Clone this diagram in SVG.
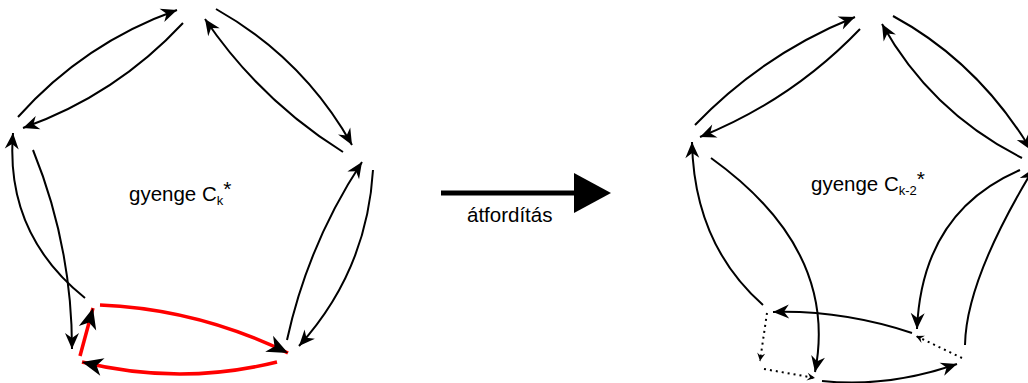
<svg xmlns="http://www.w3.org/2000/svg" width="1028" height="383" viewBox="0 0 1028 383">
<style>
.e{fill:none;stroke:#000;stroke-width:2;marker-end:url(#ah)}
.r{fill:none;stroke:#f00;stroke-width:3.5;marker-end:url(#ahr)}
.d{fill:none;stroke:#000;stroke-width:2;stroke-dasharray:2 4;marker-end:url(#ahs)}
.t{font-family:"Liberation Sans",Arial,sans-serif;fill:#000}
</style>
<defs>
<marker id="ah" markerUnits="userSpaceOnUse" viewBox="-18 -9 19 18" markerWidth="19" markerHeight="18" refX="0" refY="0" orient="auto"><path d="M0,0 L-16,-7 L-11,0 L-16,7 Z" fill="#000"/></marker>
<marker id="ahr" markerUnits="userSpaceOnUse" viewBox="-24 -11 25 22" markerWidth="25" markerHeight="22" refX="0" refY="0" orient="auto"><path d="M0,0 L-21,-9 L-15,0 L-21,9 Z" fill="#000"/></marker>
<marker id="ahs" markerUnits="userSpaceOnUse" viewBox="-9 -5 10 10" markerWidth="10" markerHeight="10" refX="0" refY="0" orient="auto"><path d="M0,0 L-8,-4 L-5,0 L-8,4 Z" fill="#000"/></marker>
</defs>
<g id="connectors">
<path class="e" d="M18,117 Q84,43 177,10"/>
<path class="e" d="M183,23 Q116,95 23,128"/>
<path class="e" d="M216,9 Q303,58 352,145"/>
<path class="e" d="M343,152 Q260,100 205,19"/>
<path class="e" d="M287,340 Q308,244 362,162"/>
<path class="e" d="M373,170 Q367,271 299,346"/>
<path class="e" d="M33,150 Q72,246 72,349"/>
<path class="e" d="M85,298 Q5,234 13,133"/>
<path class="r" d="M100,305 Q198,309 288,353"/>
<path class="r" d="M277,362 Q180,386 82,362"/>
<path class="r" d="M80,356 L93,308"/>
<path class="e" d="M695,125 Q763,54 855,17"/>
<path class="e" d="M860,29 Q792,100 700,137"/>
<path class="e" d="M893,16 Q978,62 1031,150"/>
<path class="e" d="M1022,158 Q931,112 882,24"/>
<path class="e" d="M1020,170 Q922,212 917,329"/>
<path class="e" d="M965,345 Q966,280 1034,168"/>
<path class="e" d="M763,305 Q694,244 692,142"/>
<path class="e" d="M711,158 Q839,250 815,372"/>
<path class="e" d="M912,333 Q842,310 773,312"/>
<path class="d" d="M767,313 L760,361"/>
<path class="d" d="M764,369 L815,378"/>
<path class="e" d="M822,381 Q888,388 957,364"/>
<path class="d" d="M962,358 L916,336"/>
</g>
<g id="label-left">
<text class="t" x="129" y="201" font-size="20.5">gyenge C<tspan font-size="13" dy="4">k</tspan><tspan font-size="21" dy="-9">*</tspan></text>
</g>
<g id="label-right">
<text class="t" x="811" y="191" font-size="20.5">gyenge C<tspan font-size="13" dy="4">k-2</tspan><tspan font-size="21" dy="-9">*</tspan></text>
</g>
<g id="transform-arrow">
<line x1="441" y1="193" x2="576" y2="193" stroke="#000" stroke-width="5"/>
<polygon points="574,173 611,193 574,213" fill="#000"/>
<text class="t" x="467" y="222" font-size="20.5">átfordítás</text>
</g>
</svg>
